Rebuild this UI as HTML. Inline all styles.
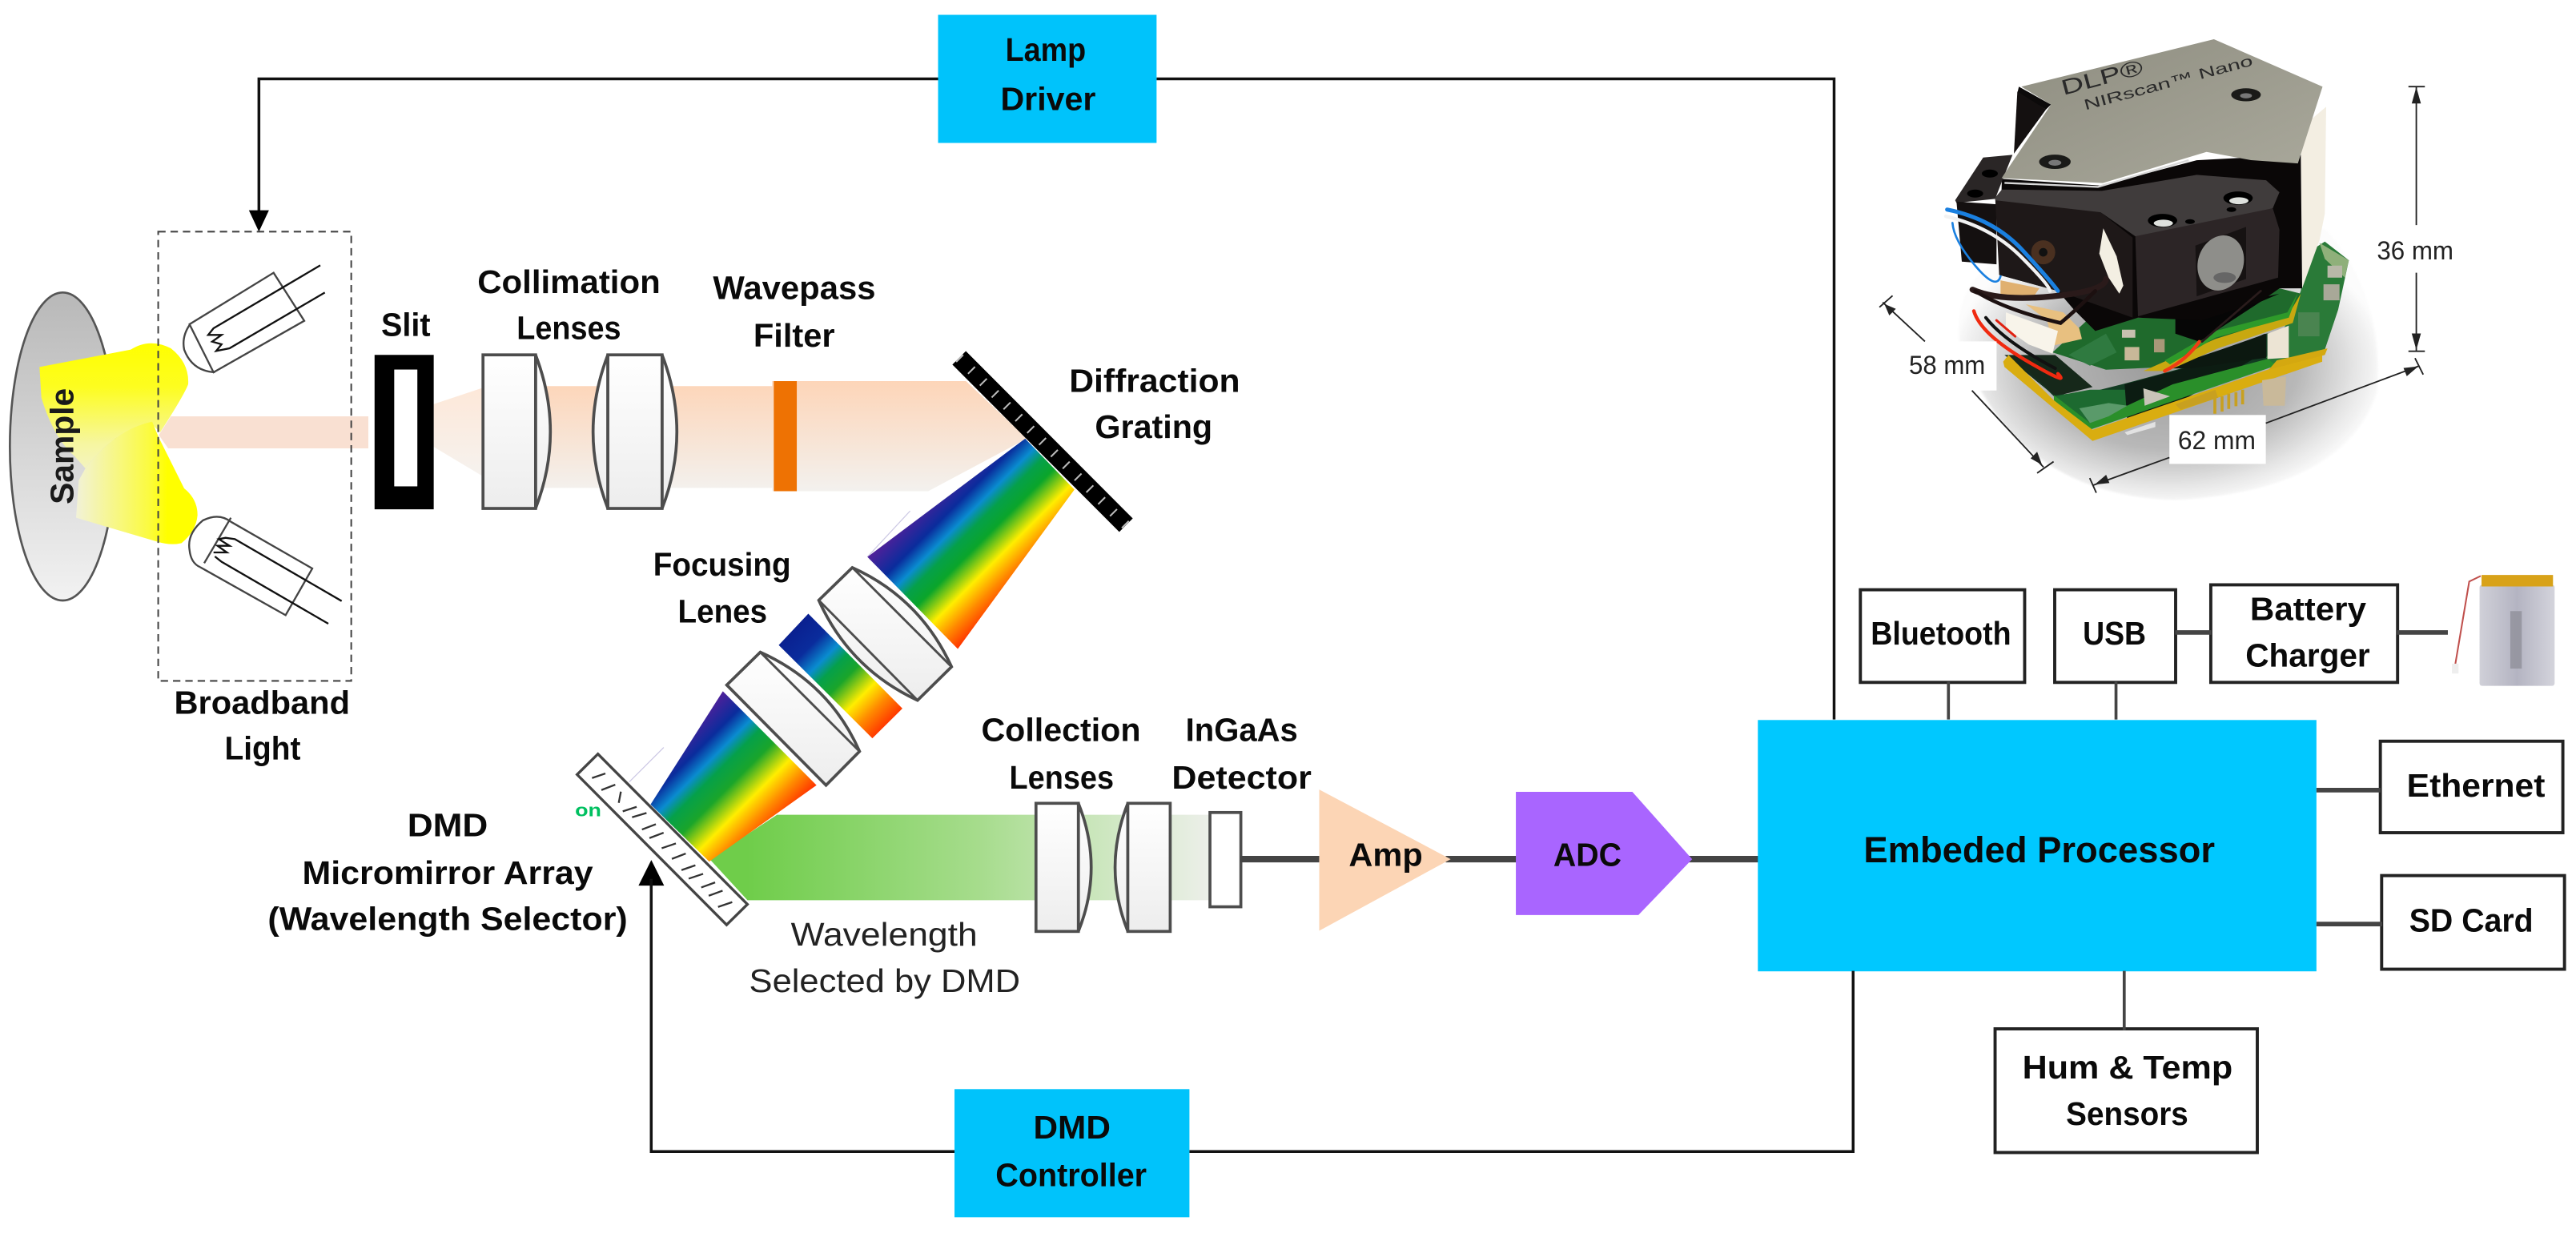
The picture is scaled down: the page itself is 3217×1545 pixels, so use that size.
<!DOCTYPE html>
<html><head><meta charset="utf-8"><style>
html,body{margin:0;padding:0;background:#fff}
svg{display:block}
text{font-family:"Liberation Sans",sans-serif;font-weight:bold;font-size:20px;fill:#0a0a0a}
.n{font-weight:normal;fill:#222}
.d{font-weight:normal;font-size:16px;fill:#222}
.l{fill:url(#lens);stroke:#4d4d4d;stroke-width:1.8}
</style></head><body>
<svg xmlns="http://www.w3.org/2000/svg" width="3217" height="1545" viewBox="0 0 1568 753">
<defs>
<linearGradient id="sam" x1="0" y1="0" x2="0" y2="1"><stop offset="0" stop-color="#b8b8b8"/><stop offset="1" stop-color="#f2f2f2"/></linearGradient>
<linearGradient id="lens" x1="0" y1="0" x2="0" y2="1"><stop offset="0" stop-color="#fff"/><stop offset="1" stop-color="#ededed"/></linearGradient>
<linearGradient id="y1" x1="0" y1="0" x2="0" y2="1"><stop offset="0" stop-color="#ffff00"/><stop offset=".35" stop-color="#fdfd20"/><stop offset=".8" stop-color="#f6f6a0"/><stop offset="1" stop-color="#f4f4c0"/></linearGradient>
<linearGradient id="y2" x1="0" y1="0" x2="1" y2="0"><stop offset="0" stop-color="#f2f2d8"/><stop offset=".6" stop-color="#fbfb40"/><stop offset=".75" stop-color="#ffff00"/><stop offset="1" stop-color="#ffff00"/></linearGradient>
<linearGradient id="bt" gradientUnits="userSpaceOnUse" x1="0" y1="232" x2="0" y2="299"><stop offset="0" stop-color="#fdd5b8"/><stop offset="1" stop-color="#f3f1ee"/></linearGradient>
<linearGradient id="bt0" gradientUnits="userSpaceOnUse" x1="0" y1="236" x2="0" y2="296"><stop offset="0" stop-color="#fde4d2"/><stop offset="1" stop-color="#f3f1ee"/></linearGradient>
<linearGradient id="gb" gradientUnits="userSpaceOnUse" x1="455" y1="0" x2="736" y2="0"><stop offset="0" stop-color="#6fcd4a"/><stop offset=".5" stop-color="#a6dc8c"/><stop offset=".72" stop-color="#c6e5b6"/><stop offset="1" stop-color="#ecefe9"/></linearGradient>
<linearGradient id="r1" gradientUnits="userSpaceOnUse" x1="528" y1="339" x2="583.5" y2="394.5">
<stop offset="0" stop-color="#52209a"/><stop offset=".2" stop-color="#0a2c9c"/><stop offset=".32" stop-color="#0a8cd0"/><stop offset=".42" stop-color="#05a04a"/><stop offset=".54" stop-color="#0aa52a"/><stop offset=".72" stop-color="#ffee00"/><stop offset=".86" stop-color="#ff8a00"/><stop offset="1" stop-color="#ff3300"/></linearGradient>
<linearGradient id="r2" gradientUnits="userSpaceOnUse" x1="483" y1="383" x2="540" y2="440">
<stop offset="0" stop-color="#0a2090"/><stop offset=".18" stop-color="#0a2c9c"/><stop offset=".32" stop-color="#0a8cd0"/><stop offset=".42" stop-color="#05a04a"/><stop offset=".54" stop-color="#1aa52a"/><stop offset=".72" stop-color="#ffee00"/><stop offset=".86" stop-color="#ff8a00"/><stop offset="1" stop-color="#ff3c00"/></linearGradient>
<linearGradient id="r3" gradientUnits="userSpaceOnUse" x1="440" y1="421" x2="497" y2="478">
<stop offset="0" stop-color="#4e209a"/><stop offset=".18" stop-color="#0a2c9c"/><stop offset=".3" stop-color="#0a8cd0"/><stop offset=".4" stop-color="#05a04a"/><stop offset=".54" stop-color="#1aa52a"/><stop offset=".72" stop-color="#ffee00"/><stop offset=".86" stop-color="#ff8a00"/><stop offset="1" stop-color="#ff3300"/></linearGradient>
<linearGradient id="pl" x1="0" y1="0" x2="1" y2="1"><stop offset="0" stop-color="#8e8d80"/><stop offset="1" stop-color="#aaa99c"/></linearGradient>
<radialGradient id="sh" cx=".5" cy=".5" r=".52"><stop offset="0" stop-color="#999"/><stop offset=".6" stop-color="#b8b8b8"/><stop offset=".85" stop-color="#e4e4e4"/><stop offset="1" stop-color="#fcfcfc"/></radialGradient>
<linearGradient id="bat" x1="0" y1="0" x2="1" y2="0"><stop offset="0" stop-color="#d0d0d8"/><stop offset=".5" stop-color="#b4b4c2"/><stop offset="1" stop-color="#d4d4dc"/></linearGradient>
<filter id="bl" x="-20%" y="-20%" width="140%" height="140%"><feGaussianBlur stdDeviation="2.5"/></filter>
</defs>
<rect width="1568" height="753" fill="#fff"/>

<!-- sample + light + lamps -->
<g transform="translate(0,185.2) scale(.16247)">
<ellipse cx="235" cy="533" rx="198" ry="577" fill="url(#sam)" stroke="#555" stroke-width="8"/>
<path d="M640,420 H1380 V540 H630 L595,490 Z" fill="#f9e0d2"/>
<path d="M148,235 L490,170 Q560,125 640,165 Q710,220 705,300 Q690,340 600,480 L565,445 Q430,470 320,615 L280,570 Q200,500 155,350 Z" fill="url(#y1)"/>
<path d="M285,800 L295,660 L320,615 Q430,470 570,440 L595,500 L690,690 Q740,730 740,790 Q735,850 680,895 Q640,905 590,890 Z" fill="url(#y2)"/>
<g fill="none" stroke="#444" stroke-width="7">
<path d="M710,75 L1025,-118 L1140,62 L800,255 Z"/>
<path d="M712,75 Q680,120 690,170 Q720,250 805,255"/>
<path d="M865,815 L1170,990 L1070,1165 L750,985"/>
<path d="M865,800 L765,970"/>
<path d="M865,815 Q820,780 760,810 Q700,860 710,920 Q715,970 750,985"/>
</g>
<g fill="none" stroke="#111" stroke-width="7">
<path d="M1200,-146 L800,90 L780,115 L830,115 L795,140 L830,150 L810,175 L860,165 L1217,-44"/>
<path d="M1280,1112 L880,880 L845,875 L820,880 L860,905 L815,905 L850,930 L800,930"/>
<path d="M1230,1197 L830,965 L805,945"/>
</g>
</g>
<text transform="translate(44.7,307) rotate(-90)" textLength="70.7" lengthAdjust="spacingAndGlyphs" style="fill:#1a1a1a">Sample</text>
<rect x="96.3" y="141" width="117.5" height="273.5" fill="none" stroke="#444" stroke-width="1" stroke-dasharray="4.5 3"/>

<!-- beam -->
<polygon points="264,246 294,236 294,290 264,272" fill="url(#bt0)" opacity=".85"/>
<polygon points="294,235 470,235 470,232 588,232 625,267 565,299 470,299 470,297 294,297" fill="url(#bt)"/>
<rect x="471" y="232" width="14" height="67" fill="#ee7203"/>
<path fill-rule="evenodd" d="M228,216 H264 V310 H228 Z M240,225 V296 H254 V225 Z" fill="#000"/>
<rect x="240" y="225" width="14" height="71" fill="#fff"/>

<path class="l" d="M326,216 Q344,263 326,309.5 Z"/>
<rect class="l" x="294" y="216" width="32" height="93.5"/>
<path class="l" d="M370,216 Q352,263 370,309.5 Z"/>
<path class="l" d="M403,216 Q421,263 403,309.5 Z"/>
<rect class="l" x="370" y="216" width="33" height="93.5"/>

<!-- grating -->
<polygon points="587.9,213.7 689.5,315.6 681.3,323.8 579.7,221.9" fill="#000"/>
<line x1="583.8" y1="217.8" x2="685.4" y2="319.7" stroke="#bbb" stroke-width="6" stroke-dasharray="1 9.2"/>

<!-- rainbows -->
<line x1="528" y1="339" x2="554" y2="311" stroke="#ccc8e4" stroke-width=".6"/>
<line x1="383" y1="476" x2="404" y2="455" stroke="#ccc8e4" stroke-width=".6"/>
<polygon points="624,267 654,298 583,395 528,339" fill="url(#r1)"/>
<polygon points="492,373.6 549.3,431.3 531,449.4 474,392.7" fill="url(#r2)"/>
<polygon points="473,496 736,496 736,548 455,548 432,523" fill="url(#gb)"/>
<polygon points="440,420.8 497,478 431.7,524.5 396,489.7" fill="url(#r3)"/>

<!-- focusing lenses -->
<path class="l" d="M518.8,345.5 Q560,364 579.2,405.9 L558.5,426.3 Q517,407 498.4,365.4 Z"/>
<path fill="none" stroke="#4d4d4d" stroke-width="1.4" d="M518.8,345.5 L579.2,405.9 M498.4,365.4 L558.5,426.3"/>
<path class="l" d="M442.4,417 L462.8,397 Q505,416 523.2,457.4 L502.8,478 Z"/>
<path fill="none" stroke="#4d4d4d" stroke-width="1.4" d="M462.8,397 L523.2,457.4"/>

<!-- mirror -->
<g transform="translate(341.2,453.3) scale(.1625)">
<polygon points="140,35 700,598 622,675 62,112" fill="#fff" stroke="#444" stroke-width="10"/>
<path fill="none" stroke="#333" stroke-width="7" d="M118,125 L168,108 M153,170 L205,150 M218,218 L226,176 M233,250 L285,233 M268,272 L322,256 M305,318 L357,298 M333,350 L386,330 M379,388 L432,370 M417,428 L469,408 M453,470 L505,452 M480,502 L534,484 M527,535 L579,516 M555,566 L607,547 M590,608 L643,590"/>
<path d="M340,432 L292,528 H388 Z" fill="#000"/>
</g>
<text x="350" y="497" textLength="16" lengthAdjust="spacingAndGlyphs" style="font-size:11px;fill:#00c060">on</text>

<!-- collection -->
<path class="l" d="M656.4,489 Q672,528 656.4,567 Z"/>
<rect class="l" x="630.6" y="489" width="25.8" height="78"/>
<path class="l" d="M686.5,489 Q671,528 686.5,567 Z"/>
<rect class="l" x="686.5" y="489" width="25.8" height="78"/>
<rect x="736.5" y="494.6" width="18.8" height="57.4" fill="#fff" stroke="#4d4d4d" stroke-width="1.8"/>

<!-- signal chain -->
<g stroke="#444" stroke-width="4"><line x1="755" y1="523" x2="803" y2="523"/><line x1="880" y1="523" x2="923" y2="523"/><line x1="1028" y1="523" x2="1071" y2="523"/></g>
<polygon points="803,480.6 883,523 803,566.6" fill="#fcd5b5"/>
<polygon points="922.7,482 993.6,482 1030,523 997.3,557 922.7,557" fill="#a965ff"/>
<rect x="1070" y="438.3" width="340" height="153" fill="#00c8ff"/>

<!-- control lines -->
<g fill="none" stroke="#111" stroke-width="1.7">
<path d="M571,48 H157.6 V130"/>
<path d="M704,48 H1116.4 V438"/>
<path d="M1128,591 V701 H724"/>
<path d="M581,701 H396.4 V535"/>
</g>
<polygon points="157.6,141 151.5,128 163.7,128" fill="#000"/>
<rect x="571" y="9" width="133" height="78" fill="#00c3fb"/>
<rect x="581" y="663" width="143" height="78" fill="#00c3fb"/>

<!-- peripheral boxes -->
<g fill="#fff" stroke="#222" stroke-width="1.9">
<rect x="1132.4" y="359" width="100" height="56.4"/>
<rect x="1250.7" y="359" width="73.6" height="56.4"/>
<rect x="1345.7" y="356" width="113.7" height="59.4"/>
<rect x="1448.9" y="451.2" width="111.1" height="55.7"/>
<rect x="1449.7" y="533" width="111.3" height="57"/>
<rect x="1214.4" y="626.3" width="159.6" height="75.3"/>
</g>
<g stroke="#444" stroke-width="1.8"><line x1="1186" y1="415" x2="1186" y2="438"/><line x1="1288" y1="415" x2="1288" y2="438"/><line x1="1293" y1="591" x2="1293" y2="627"/></g>
<g stroke="#444" stroke-width="2.8"><line x1="1324" y1="385" x2="1346" y2="385"/><line x1="1459" y1="385" x2="1490" y2="385"/><line x1="1410" y1="481" x2="1449" y2="481"/><line x1="1410" y1="562.5" x2="1450" y2="562.5"/></g>

<!-- battery -->
<path d="M1510,350.6 L1503,354 L1494.5,404.5" fill="none" stroke="#c0504d" stroke-width="1"/>
<rect x="1492.5" y="404" width="4" height="6" fill="#eee"/>
<rect x="1509.3" y="356" width="45.7" height="61.5" fill="url(#bat)" rx="1.5"/>
<rect x="1510.5" y="350" width="43.5" height="7" fill="#d8a218"/>
<rect x="1528" y="372" width="7" height="35" fill="#8a8a94" opacity=".7"/>

<!-- device photo: shadow -->
<g transform="translate(1096.6,0) scale(.3006,.1989)">
<path d="M320,1050 Q300,800 500,740 L1060,700 Q1180,900 1165,1200 Q1100,1500 760,1530 Q430,1520 320,1050 Z" fill="url(#sh)" filter="url(#bl)"/>
</g>
<!-- lower board -->
<g transform="translate(1160,185.2) scale(.1625)">
<polygon points="370,190 560,190 700,310 560,345" fill="#16281a"/>
<polygon points="420,215 555,340 690,330 810,300 1090,225 1350,110 1560,60 1560,160 1100,290 690,455 555,345" fill="#123c22"/>
<polygon points="555,345 690,460 1000,345 830,320 690,320" fill="#1d6a30"/>
<polygon points="820,300 1080,230 1345,110 1345,180 1020,370 830,440" fill="#0c1c12"/>
<polygon points="555,360 690,470 1560,170 1560,150 1000,300 690,445 555,340" fill="#2a8f2a"/>
<polygon points="365,215 370,235 700,512 1560,215 1560,175 700,470 555,360 385,190" fill="#d9ad10"/>
<polygon points="890,315 990,345 895,380" fill="#c8c4b8"/>
<polygon points="650,390 760,370 830,380 760,420 690,445" fill="#5a9a6a"/>
<polygon points="1010,375 1160,320 1170,350 1030,395" fill="#c8a020"/>
<g stroke="#c8a020" stroke-width="11"><line x1="1158" y1="350" x2="1158" y2="410"/><line x1="1185" y1="345" x2="1185" y2="402"/><line x1="1210" y1="335" x2="1210" y2="392"/><line x1="1237" y1="330" x2="1237" y2="382"/><line x1="1262" y1="320" x2="1262" y2="375"/></g>
<polygon points="820,480 935,440 935,460 830,490" fill="#e2e2e2"/>
<polygon points="1335,285 1425,270 1420,380 1340,380" fill="#c9b99a"/>
</g>
<!-- main body -->
<g transform="translate(1184.4,97.5) scale(.16247)">
<!-- right board -->
<polygon points="1350,350 1420,305 1510,375 1470,560 1420,710 1240,770 1200,740 1290,590 1330,490" fill="#2a7a38"/>
<polygon points="1400,310 1510,375 1495,440 1420,370" fill="#8fb07a"/>
<rect x="1430" y="395" width="55" height="45" fill="#b8b8a8"/>
<rect x="1415" y="465" width="60" height="60" fill="#a8a898"/>
<rect x="1320" y="570" width="80" height="90" fill="#4a8450"/>
<polygon points="1240,750 1430,705 1420,730 1210,785" fill="#d4a810"/>
<polygon points="1205,650 1285,620 1285,740 1205,745" fill="#ece4d4"/>
<polygon points="1030,710 1200,650 1200,740 920,780 820,780" fill="#0c1810"/>
<!-- upper board -->
<polygon points="400,720 540,590 860,590 1250,480 1330,500 1290,590 1030,670 830,775 600,785" fill="#1f6a2c"/>
<polygon points="1330,500 1300,610 1020,705 830,790 740,790 1010,670 1280,585" fill="#c8a810"/>
<polygon points="1320,495 1285,590 1010,665 840,765 820,750 1010,640 1280,570" fill="#2e9a2a"/>
<polygon points="860,590 1250,500 1180,530 950,680 860,650" fill="#060606"/>
<rect x="670" y="700" width="55" height="50" fill="#c8b898"/>
<rect x="780" y="670" width="40" height="50" fill="#a89878"/>
<rect x="660" y="635" width="50" height="30" fill="#c8c0b0"/>
<polygon points="460,730 600,650 640,720 540,770" fill="#2f7a40"/>
<!-- right white wall -->
<polygon points="1330,-120 1425,-200 1420,200 1400,300 1335,480" fill="#f3eee2"/>
<!-- black behind -->
<polygon points="210,70 580,95 940,0 1330,-20 1335,480 1250,480 1180,530 960,600 720,590 560,640 480,560 420,490 200,430" fill="#0a0707"/>
<!-- left block -->
<polygon points="35,150 140,-10 250,-20 210,80 185,145 40,160" fill="#2a2626"/>
<polygon points="40,155 190,165 190,390 60,380" fill="#141010"/>
<ellipse cx="165" cy="50" rx="30" ry="15" fill="#000"/>
<ellipse cx="110" cy="125" rx="30" ry="15" fill="#000"/>
<!-- left face -->
<polygon points="185,140 580,195 700,290 700,590 420,490 200,430" fill="#1e1818"/>
<!-- top face -->
<polygon points="185,140 210,110 585,115 940,55 1200,75 1250,120 1225,180 830,285 710,285 580,195 185,150" fill="#403c3c"/>
<!-- front face -->
<polygon points="710,285 1225,180 1250,260 1245,440 720,585" fill="#2c2526"/>
<ellipse cx="1095" cy="142" rx="55" ry="25" fill="#000"/>
<ellipse cx="1098" cy="152" rx="36" ry="13" fill="#dfe2de"/>
<ellipse cx="812" cy="226" rx="55" ry="25" fill="#000"/>
<ellipse cx="815" cy="236" rx="36" ry="13" fill="#dfe2de"/>
<ellipse cx="1070" cy="185" rx="18" ry="9" fill="#000"/>
<ellipse cx="915" cy="230" rx="18" ry="9" fill="#000"/>
<polygon points="935,320 1125,250 1125,445 940,510" fill="#161212"/>
<ellipse cx="1030" cy="385" rx="85" ry="105" transform="rotate(18 1030 385)" fill="#8e8e8a"/>
<ellipse cx="1045" cy="440" rx="42" ry="20" fill="#666"/>
<polygon points="590,255 640,360 665,470 650,500 610,440 575,350" fill="#f3efe3"/>
<circle cx="365" cy="345" r="45" fill="#4a3020"/><circle cx="365" cy="345" r="16" fill="#111"/>
<path d="M220,85 L570,100 L910,0" fill="none" stroke="#d8d8d8" stroke-width="7"/>
<!-- cream + wires -->
<polygon points="205,450 350,480 330,510 205,510" fill="#e0b070"/>
<polygon points="300,540 440,570 500,630 510,670 400,695 380,600" fill="#e8c080"/>
<polygon points="225,570 420,640 400,725 310,690 225,630" fill="#f8f4ea"/>
<g fill="none" stroke-linecap="round">
<path d="M25,235 Q30,300 110,395 T205,435" stroke="#1a80e0" stroke-width="8"/>
<path d="M5,185 Q180,220 290,340 T420,490" stroke="#1a80e0" stroke-width="15"/>
<path d="M0,210 Q170,250 280,360 T390,490" stroke="#f2f2f2" stroke-width="13"/>
<path d="M100,485 Q200,530 400,510 T600,445" stroke="#2a1a1a" stroke-width="22"/>
<path d="M110,490 Q220,560 430,610 Q490,560 560,490" stroke="#1c1010" stroke-width="14"/>
<path d="M105,565 Q130,650 300,750 T420,800" stroke="#f02a10" stroke-width="13"/>
<path d="M150,590 Q220,680 410,780" stroke="#111" stroke-width="12"/>
<path d="M190,600 L260,660" stroke="#e02010" stroke-width="9"/>
<path d="M950,680 Q900,750 820,790" stroke="#f03c14" stroke-width="13"/>
<path d="M960,680 L1180,490" stroke="#2a1c1c" stroke-width="8"/>
</g>
</g>
<!-- plate -->
<g transform="translate(1096.6,0) scale(.3006,.1989)">
<polygon points="445,265 835,120 1055,265 1005,500 910,490 820,465 610,560 405,545 505,320" fill="url(#pl)"/>
<ellipse cx="900" cy="290" rx="30" ry="20" fill="#1a1a18"/>
<ellipse cx="900" cy="293" rx="12" ry="8" fill="#777"/>
<ellipse cx="513" cy="495" rx="32" ry="22" fill="#1a1a18"/>
<ellipse cx="513" cy="498" rx="13" ry="9" fill="#777"/>
<polygon points="440,265 505,320 495,335 437,285" fill="#0c0a0a"/>
<polygon points="437,280 495,335 430,470" fill="#141010"/>
</g>
<text transform="translate(1256,58) rotate(-15)" textLength="51" lengthAdjust="spacingAndGlyphs" style="font-size:13px;font-weight:normal;fill:#2a2a2a">DLP®</text>
<text transform="translate(1269.4,67) rotate(-15)" textLength="106" lengthAdjust="spacingAndGlyphs" style="font-size:9px;font-weight:normal;fill:#2a2a2a">NIRscan™ Nano</text>

<!-- dimensions -->
<rect x="1171.7" y="207.8" width="43.6" height="29.9" fill="#fff"/>
<rect x="1320.5" y="252.6" width="58.7" height="29.8" fill="#fff"/>
<g stroke="#222" stroke-width=".9" fill="none">
<path d="M1470.8,53 V137 M1470.8,166 V213.8 M1466,52.7 H1476 M1466,213.8 H1476"/>
<path d="M1146,184 L1171.7,207.8 M1144,187 L1152,180"/>
<path d="M1200.3,237.7 L1243.9,284.4 M1240,288 L1250,281"/>
<path d="M1379.2,257.6 L1472.4,222.8 M1470,218 L1475,228"/>
<path d="M1320.5,278.5 L1274,295.4 M1272,291 L1276,300"/>
</g>
<g fill="#222">
<polygon points="1470.8,53 1468,63 1473.6,63"/><polygon points="1470.8,213 1468,203 1473.6,203"/>
<polygon points="1147,185 1154,188 1150,192"/><polygon points="1243,283 1236,279 1240,275"/>
<polygon points="1472,223 1463,224 1465,229"/><polygon points="1275,295 1284,294 1282,289"/>
</g>
<text class="d" x="1446.8" y="158" textLength="46.6" lengthAdjust="spacingAndGlyphs">36 mm</text>
<text class="d" x="1162" y="227.7" textLength="46.4" lengthAdjust="spacingAndGlyphs">58 mm</text>
<text class="d" x="1325.7" y="273.5" textLength="47.3" lengthAdjust="spacingAndGlyphs">62 mm</text>

<!-- labels -->
<text x="612" y="37" textLength="49" lengthAdjust="spacingAndGlyphs">Lamp</text>
<text x="609" y="67" textLength="58" lengthAdjust="spacingAndGlyphs">Driver</text>
<text x="629" y="693" textLength="47" lengthAdjust="spacingAndGlyphs">DMD</text>
<text x="606" y="722" textLength="92" lengthAdjust="spacingAndGlyphs">Controller</text>
<text x="232" y="204.5" textLength="30" lengthAdjust="spacingAndGlyphs">Slit</text>
<text x="290.6" y="178.4" textLength="111.4" lengthAdjust="spacingAndGlyphs">Collimation</text>
<text x="314.5" y="206.3" textLength="63.5" lengthAdjust="spacingAndGlyphs">Lenses</text>
<text x="434" y="182" textLength="99" lengthAdjust="spacingAndGlyphs">Wavepass</text>
<text x="458.6" y="211" textLength="49.6" lengthAdjust="spacingAndGlyphs">Filter</text>
<text x="650.8" y="238.5" textLength="104" lengthAdjust="spacingAndGlyphs">Diffraction</text>
<text x="666.5" y="266.5" textLength="71.5" lengthAdjust="spacingAndGlyphs">Grating</text>
<text x="397.6" y="350.4" textLength="83.8" lengthAdjust="spacingAndGlyphs">Focusing</text>
<text x="412.6" y="379" textLength="54.4" lengthAdjust="spacingAndGlyphs">Lenes</text>
<text x="106" y="434.5" textLength="107" lengthAdjust="spacingAndGlyphs">Broadband</text>
<text x="136.7" y="462.4" textLength="46.3" lengthAdjust="spacingAndGlyphs">Light</text>
<text x="248" y="509" textLength="49" lengthAdjust="spacingAndGlyphs">DMD</text>
<text x="184" y="538" textLength="177" lengthAdjust="spacingAndGlyphs">Micromirror Array</text>
<text x="163" y="566" textLength="219" lengthAdjust="spacingAndGlyphs">(Wavelength Selector)</text>
<text class="n" x="481.4" y="575.5" textLength="113.6" lengthAdjust="spacingAndGlyphs">Wavelength</text>
<text class="n" x="456" y="604" textLength="165" lengthAdjust="spacingAndGlyphs">Selected by DMD</text>
<text x="597.3" y="451" textLength="97" lengthAdjust="spacingAndGlyphs">Collection</text>
<text x="614.4" y="480" textLength="63.6" lengthAdjust="spacingAndGlyphs">Lenses</text>
<text x="721.7" y="451" textLength="68.3" lengthAdjust="spacingAndGlyphs">InGaAs</text>
<text x="713.3" y="480" textLength="85" lengthAdjust="spacingAndGlyphs">Detector</text>
<text x="821" y="527" textLength="45" lengthAdjust="spacingAndGlyphs">Amp</text>
<text x="945.5" y="527" textLength="41.5" lengthAdjust="spacingAndGlyphs">ADC</text>
<text x="1134.4" y="525" textLength="213.8" lengthAdjust="spacingAndGlyphs" style="font-size:22px">Embeded Processor</text>
<text x="1138.7" y="392.3" textLength="85.5" lengthAdjust="spacingAndGlyphs">Bluetooth</text>
<text x="1267.8" y="392.3" textLength="38.5" lengthAdjust="spacingAndGlyphs">USB</text>
<text x="1369.6" y="377.4" textLength="70.7" lengthAdjust="spacingAndGlyphs">Battery</text>
<text x="1366.8" y="405.8" textLength="75.8" lengthAdjust="spacingAndGlyphs">Charger</text>
<text x="1465" y="485" textLength="84.2" lengthAdjust="spacingAndGlyphs">Ethernet</text>
<text x="1466.5" y="567" textLength="75.5" lengthAdjust="spacingAndGlyphs">SD Card</text>
<text x="1231" y="656.5" textLength="128" lengthAdjust="spacingAndGlyphs">Hum &amp; Temp</text>
<text x="1257.6" y="684.8" textLength="74.4" lengthAdjust="spacingAndGlyphs">Sensors</text>
</svg>
</body></html>
